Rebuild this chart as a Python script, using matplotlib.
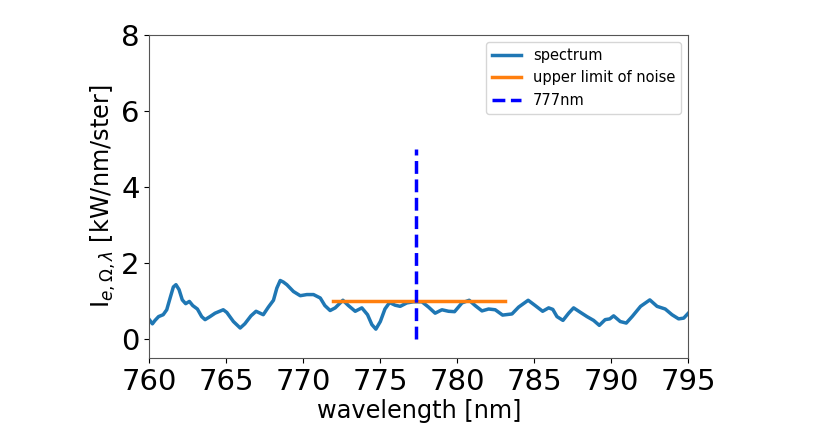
import matplotlib
matplotlib.use("Agg")
import matplotlib.pyplot as plt

wavelength = [760.0, 760.2, 760.37, 760.6, 760.9, 761.13, 761.35, 761.56, 761.73, 761.93,
              762.14, 762.36, 762.6, 762.82, 763.12, 763.4, 763.62, 763.94, 764.27, 764.8,
              765.03, 765.46, 765.9, 766.2, 766.6, 766.93, 767.4, 767.73, 768.06, 768.28,
              768.5, 768.7, 768.93, 769.36, 769.8, 770.23, 770.66, 771.1, 771.4, 771.74,
              772.07, 772.57, 772.93, 773.37, 773.8, 774.17, 774.45, 774.71, 775.0, 775.3,
              775.6, 775.96, 776.29, 776.72, 777.15, 777.7, 778.13, 778.56, 779.0, 779.43,
              779.82, 780.3, 780.77, 781.16, 781.6, 782.03, 782.46, 782.94, 783.55, 783.98,
              784.6, 785.06, 785.54, 785.93, 786.2, 786.47, 786.86, 787.23, 787.55, 788.0,
              788.42, 788.85, 789.22, 789.6, 789.9, 790.15, 790.58, 790.97, 791.35, 791.9,
              792.5, 792.97, 793.5, 793.94, 794.37, 794.7, 795.0]
intensity = [0.51, 0.40, 0.49, 0.59, 0.64, 0.77, 1.08, 1.37, 1.43, 1.30,
             1.03, 0.93, 0.99, 0.88, 0.79, 0.59, 0.51, 0.59, 0.68, 0.77,
             0.70, 0.46, 0.29, 0.40, 0.61, 0.73, 0.64, 0.84, 1.02, 1.34,
             1.54, 1.50, 1.43, 1.25, 1.14, 1.17, 1.17, 1.08, 0.88, 0.75,
             0.82, 1.02, 0.88, 0.73, 0.82, 0.64, 0.38, 0.26, 0.46, 0.79,
             0.96, 0.89, 0.86, 0.95, 0.98, 0.98, 0.84, 0.68, 0.77, 0.73,
             0.72, 0.95, 1.02, 0.88, 0.74, 0.79, 0.77, 0.63, 0.66, 0.84,
             1.02, 0.88, 0.73, 0.82, 0.78, 0.59, 0.49, 0.68, 0.82, 0.70,
             0.59, 0.49, 0.36, 0.51, 0.53, 0.61, 0.46, 0.42, 0.59, 0.86,
             1.03, 0.86, 0.79, 0.64, 0.53, 0.55, 0.68]

noise_range = [771.9, 783.1]
noise_level = 0.99
line_777 = 777.3
line_777_top = 5.0

fig = plt.figure(figsize=(8.31, 4.38), dpi=100)
ax = fig.add_axes([0.1797, 0.1826, 0.6486, 0.7374])

ax.plot(wavelength, intensity, color="#1f77b4", lw=2.5, label="spectrum")
ax.plot(noise_range, [noise_level, noise_level], color="#ff7f0e", lw=2.5,
        label="upper limit of noise")
ax.plot([line_777, line_777], [0, line_777_top], color="blue", lw=2.5,
        ls="--", label="777nm")

ax.set_xlim(760, 795)
ax.set_ylim(-0.5, 8)
ax.set_xticks([760, 765, 770, 775, 780, 785, 790, 795])
ax.set_yticks([0, 2, 4, 6, 8])
ax.tick_params(labelsize=21)
ax.set_xlabel("wavelength [nm]", fontsize=17.3, labelpad=2)
ax.set_ylabel(r"I$_{e,\Omega,\lambda}$ [kW/nm/ster]", fontsize=17.3, labelpad=2)
for s in ax.spines.values():
    s.set_color("#555555")
ax.legend(loc="upper right", fontsize=10.5)

fig.savefig("out.png", dpi=100)
